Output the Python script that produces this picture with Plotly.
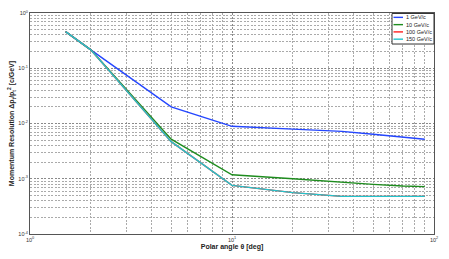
import plotly.graph_objects as go

angles = [1.5, 2.0, 5.0, 10.0, 20.0, 35.0, 50.0, 70.0, 90.0]
res_1gev = [0.46, 0.215, 0.020, 0.0089, 0.0079, 0.0072, 0.0064, 0.0056, 0.0052]
res_10gev = [0.46, 0.215, 0.0052, 0.00118, 0.0010, 0.00085, 0.00079, 0.00074, 0.00072]
res_100gev = [0.46, 0.215, 0.0047, 0.00076, 0.00056, 0.00048, 0.00048, 0.00048, 0.00048]
res_150gev = [0.46, 0.215, 0.0047, 0.00076, 0.00056, 0.00048, 0.00048, 0.00048, 0.00048]
series_names = ["1 GeV/c", "10 GeV/c", "100 GeV/c", "150 GeV/c"]
series_colors = ["#2446ff", "#1e8c1e", "#ff2020", "#22c4cc"]

x_tickvals = [1, 10, 100]
x_ticktext = ["10<sup>0</sup>", "10<sup>1</sup>", "10<sup>2</sup>"]
y_tickvals = [1e-4, 1e-3, 1e-2, 1e-1, 1]
y_ticktext = ["10<sup>-4</sup>", "10<sup>-3</sup>", "10<sup>-2</sup>", "10<sup>-1</sup>", "10<sup>0</sup>"]

W, H = 449, 259
ML, MR, MT, MB = 30, 15, 10, 21
PW, PH = W - ML - MR, H - MT - MB


def px(x):
    return (x - ML) / PW


def py(y):
    return 1 - (y - MT) / PH


fig = go.Figure()
for name, ys, col in zip(series_names, [res_1gev, res_10gev, res_100gev, res_150gev], series_colors):
    fig.add_trace(go.Scatter(x=angles, y=ys, mode="lines", name=name,
                             line=dict(color=col, width=1.4), showlegend=False))

axis_common = dict(
    type="log", showline=True, linecolor="#555555", linewidth=1, mirror=True,
    ticks="", showgrid=True, gridcolor="#8a8a8a", griddash="2px,1.5px", gridwidth=0.8,
    zeroline=False, tickfont=dict(size=5.5, color="#333333", family="Liberation Sans"),
    ticklabeloverflow="allow",
    minor=dict(showgrid=True, gridcolor="#aaaaaa", griddash="2px,1.5px", gridwidth=0.8, dtick="D1"),
)

# manual compact legend
shapes = [dict(type="rect", xref="paper", yref="paper",
               x0=px(392), x1=px(434), y0=py(42), y1=py(10.5),
               fillcolor="white", line=dict(color="#333333", width=1), layer="above")]
annotations = []
legend_y = [14.5, 22, 29.5, 37]
for name, col, ly in zip(series_names, series_colors, legend_y):
    shapes.append(dict(type="line", xref="paper", yref="paper",
                       x0=px(393.5), x1=px(403), y0=py(ly), y1=py(ly),
                       line=dict(color=col, width=1.4), layer="above"))
    annotations.append(dict(text=name, xref="paper", yref="paper", x=px(404), y=py(ly),
                            xanchor="left", yanchor="middle", showarrow=False,
                            font=dict(size=5.5, color="#222222", family="Liberation Sans")))

fig.update_layout(
    width=W, height=H,
    margin=dict(l=ML, r=MR, t=MT, b=MB),
    paper_bgcolor="white", plot_bgcolor="white",
    font=dict(family="Liberation Sans", size=6, color="#222222"),
    xaxis=dict(axis_common, range=[0, 2], tickvals=x_tickvals, ticktext=x_ticktext,
               title=dict(text="<b>Polar angle θ [deg]</b>", font=dict(size=7), standoff=2)),
    yaxis=dict(axis_common, range=[-4, 0], tickvals=y_tickvals, ticktext=y_ticktext,
               title=dict(text="<b>Momentum Resolution Δp<sub>t</sub>/p<sub>t</sub><sup>2</sup> [c/GeV]</b>",
                          font=dict(size=7), standoff=2)),
    shapes=shapes,
    annotations=annotations,
    showlegend=False,
    hovermode=False,
)

fig.write_html("out.html", config={"displayModeBar": False},
               post_script="document.body.style.margin='0';document.body.style.overflow='hidden';")
